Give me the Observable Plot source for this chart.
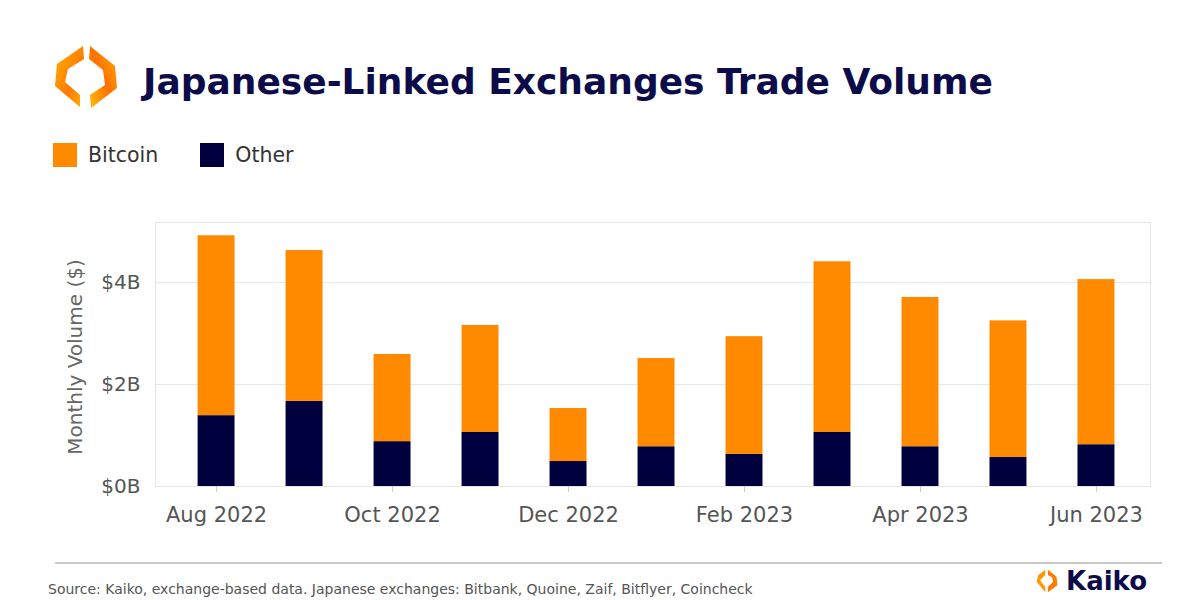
<!DOCTYPE html>
<html><head><meta charset="utf-8">
<script src="https://cdn.jsdelivr.net/npm/d3@7"></script>
<script src="https://cdn.jsdelivr.net/npm/@observablehq/plot@0.6"></script>
<style>
body{margin:0;width:1200px;height:600px;overflow:hidden;background:#fff;font-family:"DejaVu Sans",sans-serif;position:relative}
#logo{position:absolute;left:53px;top:44px}
#title{position:absolute;left:143px;top:61px;font-size:36px;font-weight:bold;color:#0c0c4a;white-space:nowrap}
#legend{position:absolute;left:53px;top:143px;font-size:20.5px;color:#333;display:flex;align-items:center}
.sw{display:inline-block;width:24px;height:24px;margin-right:11px}
.item{display:flex;align-items:center;margin-right:42px}
#chart{position:absolute;left:0;top:200px}
#ylabel{position:absolute;left:75px;top:357px;transform:translate(-50%,-50%) rotate(-90deg);font-size:20px;color:#666;white-space:nowrap}
#sep{position:absolute;left:55px;top:562px;width:1107px;height:2px;background:#c8c8c8}
#source{position:absolute;left:48px;top:581px;font-size:14px;line-height:16px;color:#555;white-space:nowrap}
#kaiko{position:absolute;left:1036px;top:567px;display:flex;align-items:center;height:28px}
#kaiko span{font-size:26px;font-weight:bold;color:#0c0c4a;margin-left:8px;line-height:28px}
</style></head><body>
<svg id="logo" width="66" height="66" viewBox="0 0 66 66">
<defs>
<linearGradient id="g1" x1="0" y1="0" x2="1" y2="1"><stop offset="0" stop-color="#ffb400"/><stop offset="0.6" stop-color="#ff7a00"/><stop offset="1" stop-color="#ffb400"/></linearGradient>
<linearGradient id="g2" x1="1" y1="0" x2="0" y2="1"><stop offset="0" stop-color="#ffb000"/><stop offset="0.5" stop-color="#ff7000"/><stop offset="1" stop-color="#ffc000"/></linearGradient>
</defs>
<polygon points="30,2 31,15 15,25 12,38 27,51 27,63 2,42 4,20" fill="url(#g1)"/>
<polygon points="37,2 62,22 64,44 38,64 37,51 52,41 50,26 36,15" fill="url(#g2)"/>
</svg>
<div id="title">Japanese-Linked Exchanges Trade Volume</div>
<div id="legend"></div>
<div id="chart"></div>
<div id="ylabel">Monthly Volume ($)</div>
<div id="sep"></div>
<div id="source">Source: Kaiko, exchange-based data. Japanese exchanges: Bitbank, Quoine, Zaif, Bitflyer, Coincheck</div>
<div id="kaiko"><svg width="22" height="26" viewBox="0 0 24 30"><polygon points="10,2 10,8 4,14 10,22 10,28 0,16 2,8" fill="#ff9a00"/><polygon points="13,2 23,10 24,20 13,28 13,22 19,16 18,11 13,8" fill="#ff7a00"/></svg><span>Kaiko</span></div>
<script>
const months = ["Aug 2022","Sep 2022","Oct 2022","Nov 2022","Dec 2022","Jan 2023","Feb 2023","Mar 2023","Apr 2023","May 2023","Jun 2023"];
const totals = [4.92, 4.63, 2.59, 3.16, 1.53, 2.51, 2.94, 4.41, 3.71, 3.25, 4.06];
const other  = [1.39, 1.67, 0.88, 1.06, 0.49, 0.78, 0.63, 1.06, 0.78, 0.57, 0.82];
const bitcoin = [3.53, 2.96, 1.71, 2.10, 1.04, 1.73, 2.31, 3.35, 2.93, 2.68, 3.24];
const xTickLabels = ["Aug 2022","Oct 2022","Dec 2022","Feb 2023","Apr 2023","Jun 2023"];
const yTicks = [0, 2, 4];
const seriesNames = ["Bitcoin","Other"];
const seriesColors = ["#ff8a00","#00003f"];

const legend = document.getElementById("legend");
seriesNames.forEach((s,i)=>{
  const it = document.createElement("div"); it.className="item";
  it.innerHTML = `<span class="sw" style="background:${seriesColors[i]}"></span>${s}`;
  legend.appendChild(it);
});

const data = months.flatMap((m,i)=>[
  {month:m, series:"Other", value:other[i]},
  {month:m, series:"Bitcoin", value:bitcoin[i]}
]);

const chart = Plot.plot({
  width:1200, height:330,
  marginLeft:155, marginRight:50, marginTop:22, marginBottom:44,
  style:{fontFamily:"DejaVu Sans, sans-serif", fontSize:"20px", color:"#555", background:"transparent"},
  x:{domain:months, paddingInner:0.58, paddingOuter:0.444, align:0.545, round:false, label:null},
  y:{domain:[0,5.18], label:null},
  color:{domain:seriesNames, range:seriesColors},
  marks:[
    Plot.gridY(yTicks, {stroke:"#e6e6e6", strokeOpacity:1}),
    Plot.frame({stroke:"#e6e6e6"}),
    Plot.barY(data, {x:"month", y:"value", fill:"series"}),
    Plot.axisX(xTickLabels, {tickSize:6, tickPadding:15, stroke:"#ccc", fill:"#555", fontSize:21, label:null}),
    Plot.axisY(yTicks, {tickSize:0, tickPadding:15, tickFormat:d=>`$${d}B`, fill:"#555", label:null})
  ]
});
document.getElementById("chart").appendChild(chart);
</script>
</body></html>
